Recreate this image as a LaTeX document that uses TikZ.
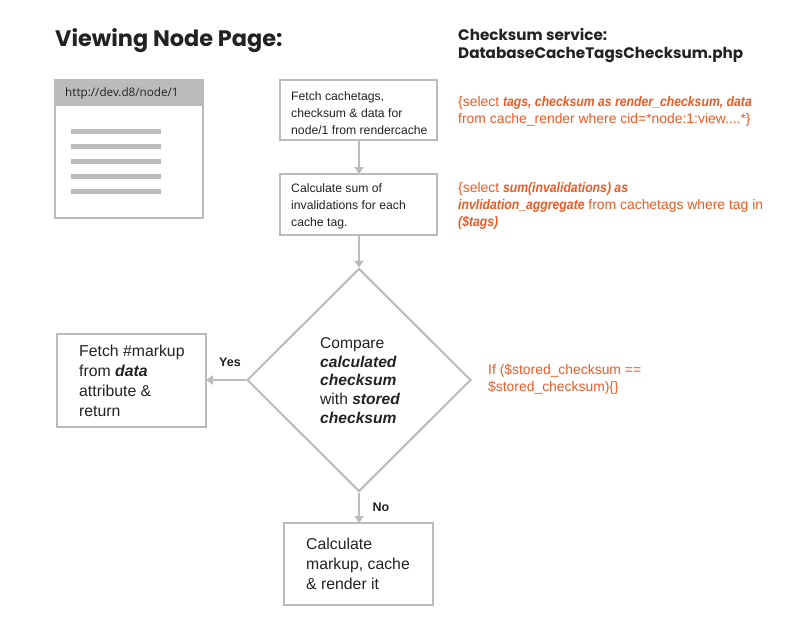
\documentclass[tikz,border=0pt]{standalone}
\usepackage{fontspec}
\setmainfont{Liberation Sans}
\newfontfamily\headfont{Poppins}
\newfontfamily\urlfont{Open Sans}
\newfontfamily\codefont{Liberation Sans}[BoldItalicFeatures={FakeStretch=0.88}]
\usetikzlibrary{shapes.geometric,arrows.meta}
\definecolor{linegray}{HTML}{BBBBBB}
\definecolor{txtdark}{HTML}{222222}
\definecolor{orng}{HTML}{EE5A24}
\tikzset{
  box/.style={draw=linegray,line width=2pt,fill=white,inner sep=0pt},
  boxtext/.style={anchor=north west,align=left,inner sep=0pt,text=txtdark,font=\fontsize{12.2}{17}\selectfont},
  bigtext/.style={anchor=north west,align=left,inner sep=0pt,text=txtdark,font=\fontsize{15.8}{20}\selectfont},
  code/.style={anchor=north west,align=left,inner sep=0pt,text=orng,font=\codefont\fontsize{13.9}{17}\selectfont},
  head/.style={anchor=north west,align=left,inner sep=0pt,text=txtdark},
  conn/.style={draw=linegray,line width=2pt,-{Triangle[length=7pt,width=9pt]}},
  lbl/.style={inner sep=0pt,text=txtdark,font=\fontsize{12.5}{15}\selectfont\bfseries},
}
\begin{document}
\begin{tikzpicture}[x=1pt,y=-1pt]
\useasboundingbox[fill=white] (0,0) rectangle (800,640);
% headings
\node[head,font=\headfont\fontsize{22.4}{26}\selectfont\bfseries] (title) at (55,28) {Viewing Node Page:};
\node[head,font=\headfont\fontsize{15.2}{18.5}\selectfont\bfseries] (svc) at (458,28) {Checksum service:\\DatabaseCacheTagsChecksum.php};
% browser
\draw[linegray,line width=2pt,fill=white] (55,80) rectangle (203,218);
\fill[linegray] (55,80) rectangle (203,106);
\node[anchor=west,inner sep=0pt,text=txtdark,font=\urlfont\fontsize{11.7}{13}\selectfont] (url) at (65,93) {http://dev.d8/node/1};
\foreach \yy in {131,146,161,176,191} \fill[linegray] (71,\yy-2.5) rectangle (161,\yy+2.5);
% boxes
\draw[box] (280,80) rectangle (437,140);
\coordinate (b1top) at (359,80);
\coordinate (b1bot) at (359,140);
\node[boxtext] (t1) at (291,91.5) {Fetch cachetags,\\checksum \& data for\\node/1 from rendercache};
\draw[box] (280,174) rectangle (437,235);
\coordinate (b2top) at (359,174);
\coordinate (b2bot) at (359,235);
\node[boxtext] (t2) at (291,183) {Calculate sum of\\invalidations for each\\cache tag.};
\node[diamond,draw=linegray,line width=2pt,minimum width=224pt,minimum height=223pt,inner sep=0pt] (dia) at (359,380) {};
\node[anchor=west,align=left,inner sep=0pt,text=txtdark,font=\fontsize{15.6}{18.7}\selectfont] (dt) at (320,380.5) {Compare\\\textbf{\textit{calculated}}\\\textbf{\textit{checksum}}\\with \textbf{\textit{stored}}\\\textbf{\textit{checksum}}};
\draw[box] (57,334) rectangle (206,427);
\coordinate (b3r) at (206,380);
\node[bigtext] (t3) at (79,345) {Fetch \#markup\\from \textbf{\textit{data}}\\attribute \&\\return};
\draw[box] (284,523) rectangle (433,605);
\coordinate (b4top) at (359,523);
\node[bigtext] (t4) at (306,538) {Calculate\\markup, cache\\\& render it};
% connectors
\draw[conn] (b1bot) -- (b2top);
\draw[conn] (b2bot) -- (dia.north);
\draw[conn] (dia.west) -- (b3r);
\draw[conn] (dia.south) -- (b4top);
\node[lbl] (yes) at (230,362) {Yes};
\node[lbl] (no) at (381,507) {No};
% code
\node[code] (c1) at (458,96) {\{select \textbf{\textit{tags, checksum as render\_checksum, data}}\\from cache\_render where cid=*node:1:view....*\}};
\node[code] (c2) at (458,182) {\{select \textbf{\textit{sum(invalidations) as}}\\\textbf{\textit{invlidation\_aggregate}} from cachetags where tag in\\\textbf{\textit{(\$tags)}}};
\node[code] (c3) at (488,364) {If (\$stored\_checksum ==\\\$stored\_checksum)\{\}};
\end{tikzpicture}
\end{document}
